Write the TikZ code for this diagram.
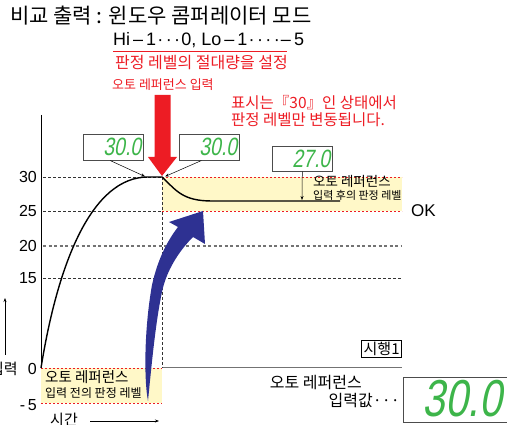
\documentclass[tikz,border=0pt]{standalone}
\usepackage{fontspec}
\setmainfont{Liberation Sans}
\newfontfamily\kr{Noto Sans CJK KR}
\newfontfamily\seg{Liberation Sans}[FakeStretch=0.78, FakeSlant=0.18]
\usetikzlibrary{arrows.meta}
\definecolor{segg}{HTML}{3DB54A}
\definecolor{rd}{HTML}{ED1C24}
\definecolor{nav}{HTML}{2E3192}
\definecolor{ylw}{HTML}{FFF8C8}
\newcommand{\dd}{\kern1.2pt·\kern1.2pt}
\tikzset{
  krt/.style={font=\kr\fontsize{#1}{#1}\selectfont, inner sep=0pt},
  lat/.style={font=\fontsize{#1}{#1}\selectfont, inner sep=0pt},
  disp/.style={draw=black!70, fill=white, line width=0.6pt, anchor=north west, inner xsep=2pt, inner ysep=0pt,
     minimum height=#1, text=segg, align=right},
  blkdash/.style={black!80, line width=0.6pt, dash pattern=on 3pt off 2pt},
  graydash/.style={black!55, line width=1.1pt, dash pattern=on 3pt off 2.5pt},
  reddash/.style={rd, line width=0.6pt, dash pattern=on 2pt off 2pt},
  thinarrow/.style={-{Stealth[length=4pt,width=3pt]}, line width=0.5pt},
}
\begin{document}
\begin{tikzpicture}[x=1pt,y=-1pt]
\useasboundingbox (0,0) rectangle (507,425);
% yellow regions
\fill[ylw] (162,177) rectangle (402,211);
\fill[ylw] (41,368) rectangle (162,403);
% level lines
\draw[blkdash] (43,177) -- (162,177);
\draw[reddash] (162,177) -- (402,177);
\draw[blkdash] (43,211) -- (162,211);
\draw[reddash] (162,211) -- (402,211);
\draw[graydash] (43,246) -- (402,246);
\draw[blkdash] (43,278) -- (402,278);
\draw[reddash] (41,368) -- (162,368);
\draw[black!55, line width=1pt] (162,368) -- (402,368);
\draw[reddash] (41,403) -- (162,403);
\draw[blkdash] (162,177) -- (162,368);
% axis
\draw[line width=0.8pt] (41,115) -- (41,368);
% tick labels
\node[lat=16, anchor=east] (t30) at (37,177) {30};
\node[lat=16, anchor=east] (t25) at (37,211) {25};
\node[lat=16, anchor=east] (t20) at (37,246) {20};
\node[lat=16, anchor=east] (t15) at (37,278) {15};
\node[lat=16, anchor=east] (t0) at (37,369) {0};
\node[lat=16, anchor=east] (tm5) at (37,405) {-\,5};
% axis captions
\node[krt=15, anchor=east] (yin) at (18,369) {입력};
\coordinate (ya1) at (5,355);
\coordinate (ya2) at (5,298);
\draw[thinarrow, line width=0.7pt] (ya1) -- (ya2);
\node[krt=15] (xtime) at (64,420) {시간};
\coordinate (xa1) at (90,421);
\coordinate (xa2) at (159,421);
\draw[thinarrow, line width=0.7pt] (xa1) -- (xa2);
% curve
\draw[line width=1.4pt] (41,368) .. controls (58,262) and (92,177) .. (148,177) -- (162,177)
   .. controls (176,190) and (182,201) .. (212,201) -- (340,201);
% displays
\node[disp=26pt, text width=56pt] (d1) at (83,134) {\seg\fontsize{25}{25}\selectfont 30.0};
\node[disp=26pt, text width=56pt] (d2) at (179,134) {\seg\fontsize{25}{25}\selectfont 30.0};
\node[disp=25pt, text width=56pt] (d3) at (272,146) {\seg\fontsize{25}{25}\selectfont 27.0};
\coordinate (p1) at (145,176.5);
\coordinate (p2) at (165,176.5);
\coordinate (p3) at (302,200);
\draw[thinarrow] (d1.south) ++(-3,0) -- (p1);
\draw[thinarrow] (d2.south) ++(-8,0) -- (p2);
\draw[thinarrow] (d3.south) -- (p3);
% red arrow
\fill[rd] (154.5,95) -- (170.5,95) -- (170.5,157) -- (177,157) -- (162,176) -- (148,157) -- (154.5,157) -- cycle;
% blue arrow
\fill[nav] (148,401) .. controls (144,380) and (144,330) .. (152,285)
   .. controls (158,258) and (168,240) .. (178,227)
   -- (169,222) -- (203,211) -- (205,244) -- (193,237)
   .. controls (178,252) and (166,272) .. (162,292)
   .. controls (156,320) and (152,360) .. (148,401) -- cycle;
% texts
\node[krt=21, anchor=west] (title) at (10,16) {비교 출력 : 윈도우 콤퍼레이터 모드};
\node[lat=18, anchor=west] (hilo) at (113,40) {Hi\,–\,1\dd\dd\dd0, Lo\,–\,1\dd\dd\dd\dd–\,5};
\coordinate (u1) at (113,51);
\coordinate (u2) at (287,51);
\draw[rd, line width=0.7pt] (u1) -- (u2);
\node[krt=16, anchor=west, text=rd] (abs) at (115,63) {판정 레벨의 절대량을 설정};
\node[krt=13, anchor=west, text=rd] (ari) at (112,85) {오토 레퍼런스 입력};
\node[krt=15.5, anchor=west, text=rd, align=left] (note) at (231,111) {표시는『30』인 상태에서\\[2pt]판정 레벨만 변동됩니다.};
\node[krt=13.5, anchor=north west, align=left] (after) at (313,175) {오토 레퍼런스\\[0pt]{\fontsize{11}{11}\selectfont 입력 후의 판정 레벨}};
\node[lat=17, anchor=west] (ok) at (411,211) {OK};
\node[krt=14.5, anchor=north west, align=left] (before) at (45,370) {오토 레퍼런스\\[1pt]{\fontsize{12}{12}\selectfont 입력 전의 판정 레벨}};
\node[krt=15, draw, line width=0.8pt, inner xsep=2pt, inner ysep=1.5pt, anchor=north east] (trial) at (402,340) {시행1};
\node[krt=16, anchor=east] (arv1) at (362,383) {오토 레퍼런스};
\node[krt=16, anchor=east] (arv2) at (400,401) {입력값···};
\node[draw=black!70, fill=white, line width=0.8pt, anchor=north west, minimum width=115pt, minimum height=45pt, inner sep=0pt] (bigd) at (403,377) {};
\node[anchor=east, text=segg, inner sep=0pt, font=\seg\fontsize{52}{52}\selectfont] (bigt) at (502,399) {30.0};
\end{tikzpicture}
\end{document}
